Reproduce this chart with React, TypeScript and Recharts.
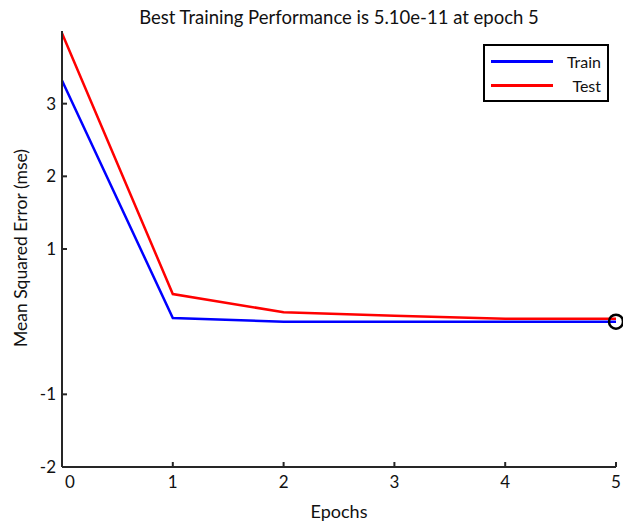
import { LineChart, Line, XAxis, YAxis, Legend, Label } from 'recharts'

const epochs = [0, 1, 2, 3, 4, 5]
const trainMse = [3.32, 0.05, 0, 0, 0, 0]
const testMse = [3.97, 0.38, 0.13, 0.08, 0.04, 0.04]
const yTicks = [-2, -1, 1, 2, 3]
const bestEpoch = 5
const title = 'Best Training Performance is 5.10e-11 at epoch 5'

const data = epochs.map((e, i) => ({ epoch: e, train: trainMse[i], test: testMse[i] }))

const font = 'Lato, "Open Sans", sans-serif'
const axisColor = '#262626'
const textColor = '#111'

// black ring on the best epoch of the training curve
const BestDot = (props: any) => {
	const { cx, cy, index } = props
	if (index !== bestEpoch) return <g key={index} />
	return <circle key={index} cx={cx} cy={cy} r={7} fill='none' stroke='#000' strokeWidth={2.5} />
}

// the first x label sits a bit right of the axis corner
const EpochTick = (props: any) => {
	const { x, y, payload } = props
	const shift = payload.value === 0 ? 8 : 0
	return (
		<text x={x + shift} y={y} dy='0.71em' textAnchor='middle' fill={textColor} fontSize={17} fontFamily={font}>
			{payload.value}
		</text>
	)
}

const LegendBox = () => (
	<div
		style={{
			border: '2px solid #000',
			background: '#fff',
			width: 122,
			padding: '3px 0',
			fontFamily: font,
			fontSize: 16,
			color: textColor,
		}}
	>
		{[
			{ name: 'Train', color: '#0000ff' },
			{ name: 'Test', color: '#ff0000' },
		].map((s) => (
			<div key={s.name} style={{ display: 'flex', alignItems: 'center', height: 24 }}>
				<div style={{ width: 62, height: 3, background: s.color, marginLeft: 6 }} />
				<div style={{ flex: 1, textAlign: 'right', paddingRight: 6 }}>{s.name}</div>
			</div>
		))}
	</div>
)

export default () => {
	return (
		<div style={{ position: 'fixed', left: 0, top: 0, background: '#fff' }}>
			<LineChart
				width={623}
				height={524}
				data={data}
				margin={{ top: 31, right: 7, bottom: 7, left: 0 }}
				style={{ fontFamily: font }}
			>
				<text x={339} y={24} textAnchor='middle' fontSize={18.5} fill={textColor} fontFamily={font}>
					{title}
				</text>
				<text
					transform='translate(20,248) rotate(-90)'
					textAnchor='middle'
					dominantBaseline='central'
					fontSize={17.5}
					fill={textColor}
					fontFamily={font}
				>
					Mean Squared Error (mse)
				</text>
				<XAxis
					dataKey='epoch'
					type='number'
					domain={[0, 5]}
					ticks={epochs}
					height={50}
					stroke={axisColor}
					strokeWidth={2}
					tickSize={-5}
					tickMargin={14}
					tick={<EpochTick />}
				>
					<Label value='Epochs' position='insideBottom' offset={-1} fill={textColor} fontSize={18} />
				</XAxis>
				<YAxis
					type='number'
					domain={[-2, 4]}
					ticks={yTicks}
					width={62}
					stroke={axisColor}
					strokeWidth={2}
					tickSize={-5}
					tickMargin={11}
					tick={{ fill: textColor, fontSize: 17 }}
				/>
				<Legend
					layout='horizontal'
					verticalAlign='middle'
					align='center'
					content={<LegendBox />}
					wrapperStyle={{ top: 44, left: 483, width: 126 }}
				/>
				<Line
					type='linear'
					dataKey='train'
					name='Train'
					stroke='#0000ff'
					strokeWidth={2.5}
					dot={<BestDot />}
					activeDot={false}
					isAnimationActive={false}
				/>
				<Line
					type='linear'
					dataKey='test'
					name='Test'
					stroke='#ff0000'
					strokeWidth={2.5}
					dot={false}
					activeDot={false}
					isAnimationActive={false}
				/>
			</LineChart>
		</div>
	)
}
